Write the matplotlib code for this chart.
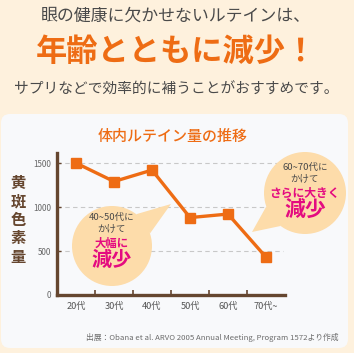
import matplotlib
matplotlib.use("Agg")
from matplotlib import pyplot as plt
from matplotlib.patches import FancyBboxPatch, Circle, Polygon
import numpy as np

plt.rcParams['font.family'] = ['Noto Sans CJK JP', 'DejaVu Sans']

ages = ['20代', '30代', '40代', '50代', '60代', '70代~']
lutein = [1500, 1290, 1420, 880, 920, 430]
yticks = [0, 500, 1000, 1500]

ORANGE = '#ee6c14'
BROWN = '#65462f'
MAGENTA = '#e40b80'
GRAY = '#4a4a4a'
PEACH = '#fddcaa'

W, H = 354, 353
fig = plt.figure(figsize=(W / 100, H / 100), dpi=100)
fig.patch.set_facecolor('#fef1dd')

# background panel
bg = fig.add_axes([0, 0, 1, 1], zorder=-1)
bg.set_xlim(0, W)
bg.set_ylim(H, 0)
bg.axis('off')
bg.add_patch(FancyBboxPatch((1, 114), 347, 234, boxstyle='round,pad=0,rounding_size=9',
                            fc='#f8f9fb', ec='none'))

# chart
ax = fig.add_axes([57 / W, (H - 295) / H, 228 / W, 142 / H], zorder=1)
ax.patch.set_alpha(0)
x = np.arange(len(ages))
ax.set_xlim(-0.5, len(ages) - 0.5)
ax.set_ylim(0, 1614)

for v in yticks[1:]:
    ax.axhline(v, xmin=0, xmax=0.99, color='#c8c8c8', lw=0.8, ls=(0, (4, 3)), zorder=1)

ax.plot(x, lutein, color=ORANGE, lw=2.4, marker='s', markersize=6.5, zorder=3)

for s in ['top', 'right']:
    ax.spines[s].set_visible(False)
for s in ['left', 'bottom']:
    ax.spines[s].set_color(BROWN)
    ax.spines[s].set_linewidth(2.4)

ax.set_yticks(yticks)
ax.set_yticklabels([str(v) for v in yticks], fontsize=5.8, color='#666666')
ax.set_xticks(x)
ax.set_xticklabels(ages, fontsize=6.6, color='#555555')
ax.set_xticks(np.arange(0.5, len(ages) - 0.5), minor=True)
ax.tick_params(axis='x', which='major', length=0, pad=5)
ax.tick_params(axis='x', which='minor', direction='in', length=3.5, width=1.2, color=BROWN)
ax.tick_params(axis='y', direction='in', length=3, width=1.0, color=BROWN, pad=4)

# overlay in pixel coords for headings and bubbles
ov = fig.add_axes([0, 0, 1, 1], zorder=2)
ov.set_xlim(0, W)
ov.set_ylim(H, 0)
ov.axis('off')

ov.text(176, 16, '眼の健康に欠かせないルテインは、', ha='center', va='center',
        fontsize=12.2, color=GRAY)
ov.text(176, 52, '年齢とともに減少！', ha='center', va='center',
        fontsize=22.5, color=ORANGE, fontweight='bold')
ov.text(176, 90, 'サプリなどで効率的に補うことがおすすめです。', ha='center', va='center',
        fontsize=10.6, color=GRAY)
ov.text(173, 136, '体内ルテイン量の推移', ha='center', va='center',
        fontsize=10.8, color=ORANGE, fontweight='medium')

for i, ch in enumerate('黄斑色素量'):
    ov.text(18, 183 + i * 18.5, ch, ha='center', va='center', fontsize=11,
            color=BROWN, fontweight='bold')

ov.text(338, 337, '出展：Obana et al. ARVO 2005 Annual Meeting, Program 1572より作成',
        ha='right', va='center', fontsize=5.6, color='#6b6b6b')


def bubble(cx, cy, r, tx, ty):
    ang = np.arctan2(ty - cy, tx - cx)
    a1, a2 = ang - 0.3, ang + 0.3
    ov.add_patch(Polygon([(cx + r * np.cos(a1), cy + r * np.sin(a1)), (tx, ty),
                          (cx + r * np.cos(a2), cy + r * np.sin(a2))],
                         closed=True, fc=PEACH, ec='none', zorder=4))
    ov.add_patch(Circle((cx, cy), r, fc=PEACH, ec='none', zorder=4))


bubble(112, 246, 40, 171, 204)
ov.text(112, 217, '40~50代に', ha='center', va='center', fontsize=6.8, color=GRAY, zorder=5)
ov.text(112, 229, 'かけて', ha='center', va='center', fontsize=6.8, color=GRAY, zorder=5)
ov.text(112, 243, '大幅に', ha='center', va='center', fontsize=8.2, color=MAGENTA,
        fontweight='bold', zorder=5)
ov.text(112, 259, '減少', ha='center', va='center', fontsize=14.5, color=MAGENTA,
        fontweight='bold', zorder=5)

bubble(305, 193, 41, 252, 232)
ov.text(305, 167, '60~70代に', ha='center', va='center', fontsize=6.8, color=GRAY, zorder=5)
ov.text(305, 179, 'かけて', ha='center', va='center', fontsize=6.8, color=GRAY, zorder=5)
ov.text(305, 193, 'さらに大きく', ha='center', va='center', fontsize=8.5, color=MAGENTA,
        fontweight='bold', zorder=5)
ov.text(305, 209, '減少', ha='center', va='center', fontsize=15, color=MAGENTA,
        fontweight='bold', zorder=5)

fig.savefig('out.png', dpi=100, facecolor=fig.get_facecolor())
